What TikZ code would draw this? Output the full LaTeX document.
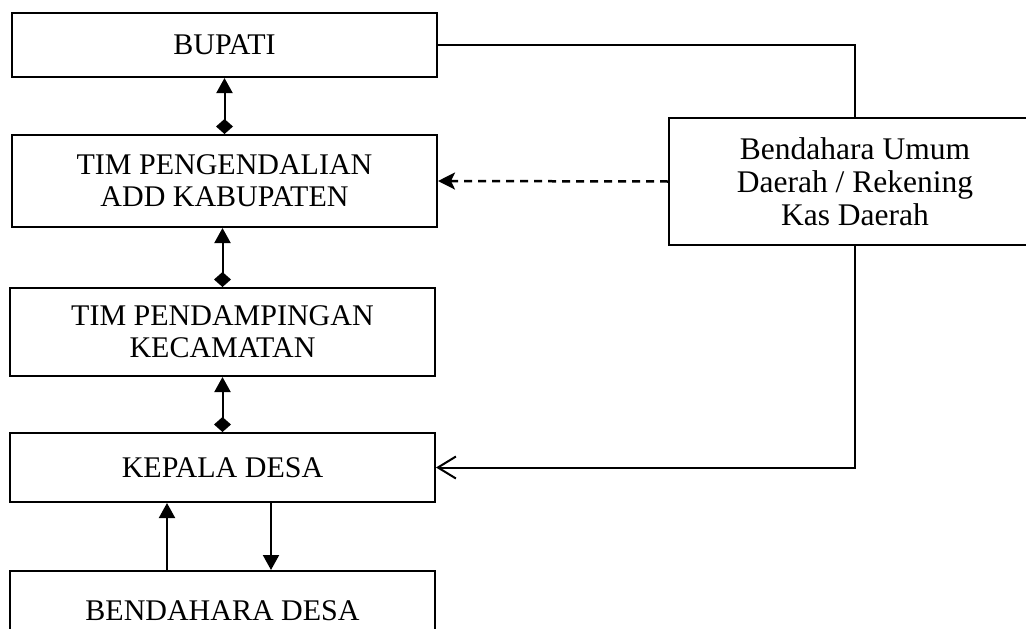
\documentclass[tikz,border=0pt]{standalone}
\usepackage{fontspec}
\setmainfont{Liberation Serif}
\usetikzlibrary{arrows.meta}
\begin{document}
\begin{tikzpicture}[x=1pt,y=-1pt,
  box/.style={draw,line width=2pt,rectangle,inner sep=0pt,align=center,font=\fontsize{30}{32}\selectfont},
  rbox/.style={box,font=\fontsize{31.5}{33}\selectfont},
  conn/.style={line width=2pt},
  tri/.style={-{Triangle[length=15pt,width=16pt]}},
  dia/.style={{Turned Square[length=15pt,width=17pt]}-{Triangle[length=15pt,width=16pt]}},
  dashconn/.style={line width=2.5pt,dash pattern=on 8pt off 6pt,-{Stealth[length=17pt,width=17pt,inset=4pt]}},
  barb/.style={-{Straight Barb[length=18pt,width=22pt,line width=2pt]}}]
\useasboundingbox (0,0) rectangle (1026,629);
\clip (0,0) rectangle (1026,629);
\node[box,minimum width=425pt,minimum height=64pt] (bupati) at (224.5,45) {BUPATI};
\node[box,minimum width=425pt,minimum height=92pt] (tim1) at (224.5,181) {TIM PENGENDALIAN\\ADD KABUPATEN};
\node[box,minimum width=425pt,minimum height=88pt] (tim2) at (222.5,332) {TIM PENDAMPINGAN\\KECAMATAN};
\node[box,minimum width=425pt,minimum height=69pt] (kepala) at (222.5,467.5) {KEPALA DESA};
\node[box,minimum width=425pt,minimum height=80pt] (bdesa) at (222.5,611) {BENDAHARA DESA};
\node[rbox,minimum width=372pt,minimum height=127pt] (bum) at (855,181.5) {Bendahara Umum\\Daerah / Rekening\\Kas Daerah};
\coordinate (up) at ([xshift=-55.5]bdesa.north);
\coordinate (dn) at ([xshift=48.5]bdesa.north);
% connectors
\draw[conn] (bupati.east) -| (bum.north);
\draw[conn,barb] (bum.south) |- (kepala.east);
\draw[dashconn] (bum.west) -- (tim1.east);
\draw[conn,dia] (tim1.north) -- (bupati.south);
\draw[conn,dia] (tim2.north) -- (tim2.north |- tim1.south);
\draw[conn,dia] (kepala.north) -- (tim2.south);
\draw[conn,tri] (up) -- (up |- kepala.south);
\draw[conn,tri] (dn |- kepala.south) -- (dn);
\end{tikzpicture}
\end{document}
